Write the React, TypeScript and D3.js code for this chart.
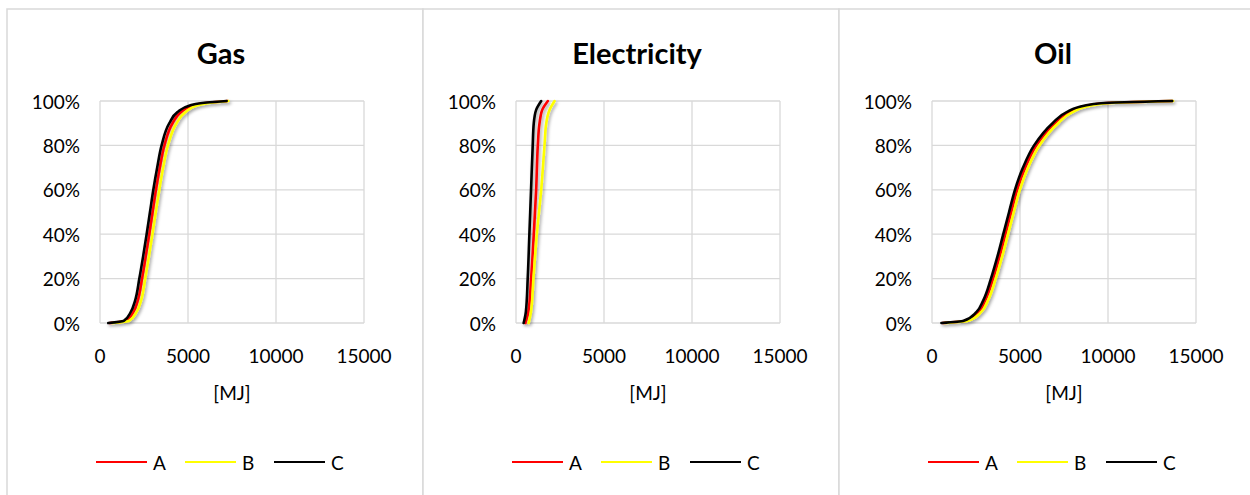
import React from "react";
import * as d3 from "d3";

// ---- Data ----
const seriesNames = ["A", "B", "C"];
const seriesColors = ["#ff0000", "#ffff00", "#000000"];
const panelTitles = ["Gas", "Electricity", "Oil"];
const xTicks = [0, 5000, 10000, 15000];
const yTicks = [0, 0.2, 0.4, 0.6, 0.8, 1.0];

// cumulative share levels (%) shared by gas and oil curves
const cdfLevels = [0, 1, 5, 10, 20, 30, 40, 50, 60, 70, 80, 90, 95, 98, 99, 100];

// Gas [MJ] at each level
const gasA = [560, 1480, 1900, 2140, 2390, 2600, 2800, 2990, 3180, 3400, 3660, 4120, 4600, 5300, 5900, 7250];
const gasB = [700, 1650, 2080, 2330, 2570, 2780, 2980, 3170, 3370, 3590, 3860, 4350, 4850, 5500, 6100, 7300];
const gasC = [470, 1350, 1750, 1990, 2235, 2450, 2650, 2840, 3030, 3250, 3500, 3940, 4400, 5100, 5700, 7200];

// Electricity [MJ]
const elecLevels = [0, 5, 20, 40, 60, 80, 90, 96, 100];
const elecA = [530, 700, 860, 1010, 1145, 1240, 1336, 1490, 1810];
const elecB = [720, 850, 990, 1183, 1432, 1620, 1718, 1907, 2190];
const elecC = [435, 560, 665, 760, 855, 950, 1010, 1145, 1430];

// Oil [MJ]
const oilA = [600, 1900, 2650, 3010, 3470, 3840, 4170, 4500, 4840, 5300, 5930, 6990, 7790, 8850, 9750, 13650];
const oilB = [700, 2050, 2800, 3170, 3620, 3990, 4320, 4650, 4990, 5460, 6100, 7170, 7990, 9050, 9950, 13700];
const oilC = [535, 1800, 2530, 2900, 3350, 3720, 4050, 4380, 4715, 5170, 5800, 6850, 7650, 8700, 9600, 13650];

const panels = [
  { title: panelTitles[0], levels: cdfLevels, series: [gasA, gasB, gasC] },
  { title: panelTitles[1], levels: elecLevels, series: [elecA, elecB, elecC] },
  { title: panelTitles[2], levels: cdfLevels, series: [oilA, oilB, oilC] },
];

const W = 1250;
const H = 495;
const PANEL_W = 416;
const PANEL_X0 = 7;
const PANEL_Y0 = 9;
const FONT = "Lato, 'Open Sans', sans-serif";
const GRID = "#d9d9d9";

function Panel({ idx, p }: { idx: number; p: (typeof panels)[number] }) {
  const ox = PANEL_X0 + idx * PANEL_W;
  const x = d3.scaleLinear().domain([0, 15000]).range([93, 357]);
  const y = d3.scaleLinear().domain([0, 1]).range([323, 101]);
  const line = d3
    .line<[number, number]>()
    .x((d) => x(d[0]))
    .y((d) => y(d[1]))
    .curve(d3.curveMonotoneY);
  const cx = (x.range()[0] + x.range()[1]) / 2;
  return (
    <g transform={`translate(${ox},0)`}>
      <rect x={0} y={PANEL_Y0} width={PANEL_W} height={H + 20} fill="#fff" stroke={GRID} strokeWidth={1.5} />
      <text x={PANEL_W / 2 + 6} y={52} textAnchor="middle" dominantBaseline="central" fontFamily={FONT} fontWeight="bold" fontSize={29} fill="#000">
        {p.title}
      </text>
      {yTicks.map((t) => (
        <g key={"y" + t}>
          <line x1={x(0)} x2={x(15000)} y1={y(t)} y2={y(t)} stroke={GRID} strokeWidth={1.3} />
          <text x={x(0) - 20} y={y(t)} textAnchor="end" dominantBaseline="central" fontFamily={FONT} fontSize={19} fill="#000">
            {d3.format(".0%")(t)}
          </text>
        </g>
      ))}
      {xTicks.map((t) => (
        <g key={"x" + t}>
          <line x1={x(t)} x2={x(t)} y1={y(0)} y2={y(1)} stroke={GRID} strokeWidth={1.3} />
          <text x={x(t)} y={355} textAnchor="middle" dominantBaseline="central" fontFamily={FONT} fontSize={19} fill="#000">
            {t}
          </text>
        </g>
      ))}
      <text x={cx} y={392} textAnchor="middle" dominantBaseline="central" fontFamily={FONT} fontSize={19} fill="#000">
        [MJ]
      </text>
      <g filter="url(#shadow)">
        {p.series.map((vals, si) => {
          const pts: [number, number][] = vals.map((v, i) => [v, p.levels[i] / 100]);
          return <path key={si} d={line(pts) || ""} fill="none" stroke={seriesColors[si]} strokeWidth={2.6} strokeLinejoin="round" strokeLinecap="round" />;
        })}
      </g>
      {seriesNames.map((n, si) => {
        const lx = 89 + si * 89;
        return (
          <g key={n}>
            <line x1={lx} x2={lx + 51} y1={462} y2={462} stroke={seriesColors[si]} strokeWidth={2} />
            <text x={lx + 57} y={462} dominantBaseline="central" fontFamily={FONT} fontSize={19} fill="#000">
              {n}
            </text>
          </g>
        );
      })}
    </g>
  );
}

export default function App() {
  return (
    <svg width={W} height={H} style={{ position: "fixed", left: 0, top: 0, background: "#fff" }}>
      <defs>
        <filter id="shadow" x="-10%" y="-10%" width="130%" height="130%">
          <feDropShadow dx={1.5} dy={2} stdDeviation={1.5} floodColor="#000" floodOpacity={0.35} />
        </filter>
      </defs>
      <rect width={W} height={H} fill="#fff" />
      {panels.map((p, i) => (
        <Panel key={i} idx={i} p={p} />
      ))}
    </svg>
  );
}
